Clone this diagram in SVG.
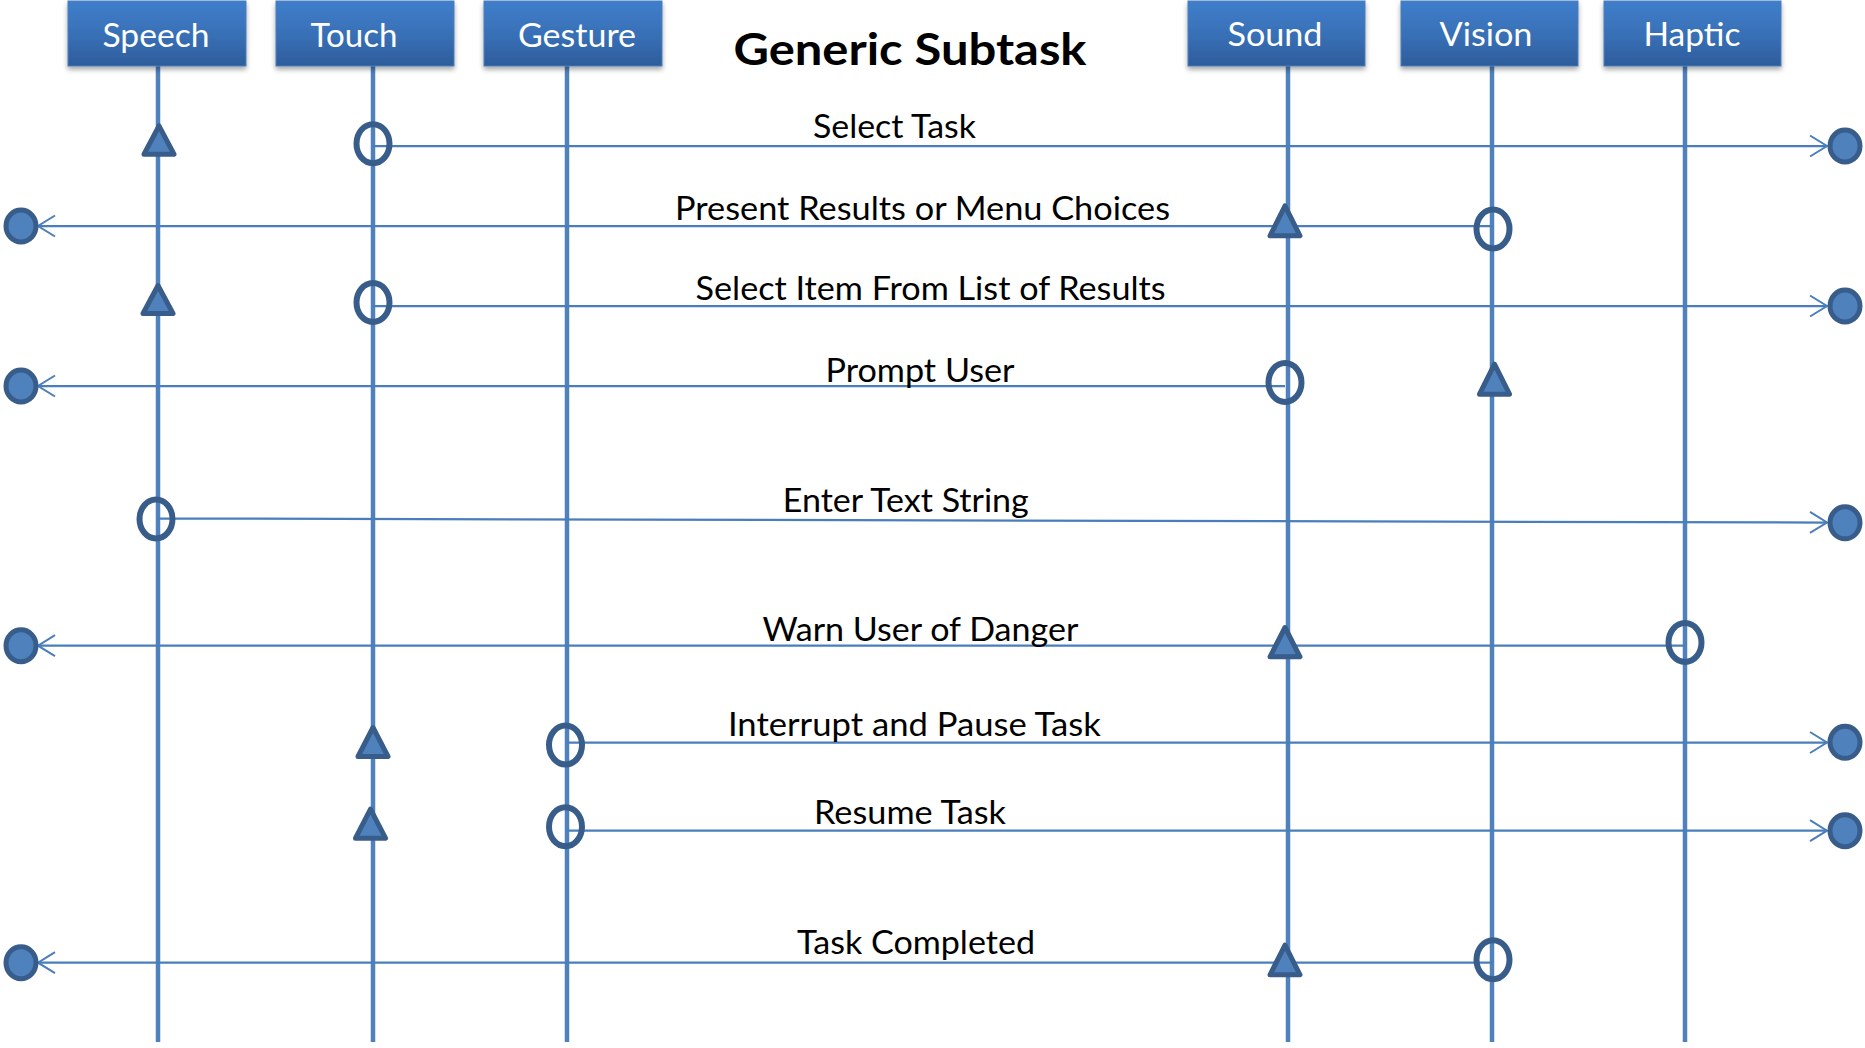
<svg xmlns="http://www.w3.org/2000/svg" width="1865" height="1048" viewBox="0 0 1865 1048">
<defs>
<linearGradient id="hdr" x1="0" y1="0" x2="0" y2="1">
<stop offset="0" stop-color="#3F7ECB"/>
<stop offset="0.55" stop-color="#386FB5"/>
<stop offset="1" stop-color="#2D5C9B"/>
</linearGradient>
<filter id="sh" x="-10%" y="-10%" width="120%" height="130%">
<feDropShadow dx="0" dy="3" stdDeviation="2.5" flood-color="#000" flood-opacity="0.35"/>
</filter>
<marker id="open" viewBox="0 0 20 24" refX="18" refY="12" markerWidth="20" markerHeight="24" markerUnits="userSpaceOnUse" orient="auto">
<path d="M1,1.5 L18,12 L1,22.5" fill="none" stroke="#4A7EBB" stroke-width="2"/>
</marker>
</defs>
<style>
.box{fill:url(#hdr);stroke:#4A7EBB;stroke-width:1;filter:url(#sh)}
.hl{font-family:Lato,"Liberation Sans",sans-serif;font-size:33px;fill:#fff;text-anchor:middle}
.life{stroke:#4F81BD;stroke-width:4.5;fill:none}
.msg{stroke:#4A7EBB;stroke-width:2.25;fill:none}
.arr{marker-end:url(#open)}
.lbl{font-family:Lato,"Liberation Sans",sans-serif;font-size:32px;fill:#000;text-anchor:middle}
.title{font-family:Lato,"Liberation Sans",sans-serif;font-size:44px;font-weight:bold;fill:#000;text-anchor:middle}
.end{fill:#4F81BD;stroke:#385D8A;stroke-width:5}
.ring{fill:none;stroke:#385D8A;stroke-width:6}
.tri{fill:#4F81BD;stroke:#385D8A;stroke-width:5;stroke-linejoin:round}
</style>
<rect width="1865" height="1048" fill="#fff"/>

<text class="title" x="910" y="65" textLength="353" lengthAdjust="spacingAndGlyphs">Generic Subtask</text>

<g id="lifelines">
<line class="life" x1="158" y1="66" x2="158" y2="1042"/>
<line class="life" x1="373" y1="66" x2="373" y2="1042"/>
<line class="life" x1="567" y1="66" x2="567" y2="1042"/>
<line class="life" x1="1288" y1="66" x2="1288" y2="1042"/>
<line class="life" x1="1492" y1="66" x2="1492" y2="1042"/>
<line class="life" x1="1685" y1="66" x2="1685" y2="1042"/>
</g>

<g id="node-speech">
<rect class="box" x="68" y="1" width="178" height="65"/>
<text class="hl" x="156" y="47" textLength="107" lengthAdjust="spacingAndGlyphs">Speech</text>
</g>
<g id="node-touch">
<rect class="box" x="276" y="1" width="178" height="65"/>
<text class="hl" x="354" y="47" textLength="87" lengthAdjust="spacingAndGlyphs">Touch</text>
</g>
<g id="node-gesture">
<rect class="box" x="484" y="1" width="178" height="65"/>
<text class="hl" x="577" y="47" textLength="118" lengthAdjust="spacingAndGlyphs">Gesture</text>
</g>
<g id="node-sound">
<rect class="box" x="1188" y="1" width="177" height="65"/>
<text class="hl" x="1275" y="46" textLength="95" lengthAdjust="spacingAndGlyphs">Sound</text>
</g>
<g id="node-vision">
<rect class="box" x="1401" y="1" width="177" height="65"/>
<text class="hl" x="1486" y="46" textLength="93" lengthAdjust="spacingAndGlyphs">Vision</text>
</g>
<g id="node-haptic">
<rect class="box" x="1604" y="1" width="177" height="65"/>
<text class="hl" x="1692" y="46" textLength="97" lengthAdjust="spacingAndGlyphs">Haptic</text>
</g>

<g id="connectors">
<!-- message lines -->
<line class="msg arr" x1="373" y1="146" x2="1827" y2="146"/>
<line class="msg arr" x1="1493" y1="226" x2="38" y2="226"/>
<line class="msg arr" x1="373" y1="306" x2="1827" y2="306"/>
<line class="msg arr" x1="1285" y1="386" x2="38" y2="386"/>
<line class="msg arr" x1="158" y1="518.5" x2="1827" y2="522.5"/>
<line class="msg arr" x1="1685" y1="645.7" x2="38" y2="645.7"/>
<line class="msg arr" x1="567" y1="742.5" x2="1827" y2="742.5"/>
<line class="msg arr" x1="567" y1="830.7" x2="1827" y2="830.7"/>
<line class="msg arr" x1="1493" y1="962.7" x2="38" y2="962.7"/>

<!-- end points -->
<ellipse class="end" cx="1845" cy="146" rx="15" ry="16"/>
<ellipse class="end" cx="21" cy="226" rx="15" ry="16"/>
<ellipse class="end" cx="1845" cy="306" rx="15" ry="16"/>
<ellipse class="end" cx="21" cy="386" rx="15" ry="16"/>
<ellipse class="end" cx="1845" cy="522.8" rx="15" ry="16"/>
<ellipse class="end" cx="21" cy="645.7" rx="15" ry="16"/>
<ellipse class="end" cx="1845" cy="742.3" rx="15" ry="16"/>
<ellipse class="end" cx="1845" cy="830.7" rx="15" ry="16"/>
<ellipse class="end" cx="21" cy="962.7" rx="15" ry="16"/>

<!-- source rings -->
<ellipse class="ring" cx="373" cy="143.7" rx="16.5" ry="19.5"/>
<ellipse class="ring" cx="1493" cy="229" rx="16.5" ry="19.5"/>
<ellipse class="ring" cx="373" cy="302.5" rx="16.5" ry="19.5"/>
<ellipse class="ring" cx="1285" cy="382.5" rx="16.5" ry="19.5"/>
<ellipse class="ring" cx="156" cy="519" rx="16.5" ry="19.5"/>
<ellipse class="ring" cx="1685" cy="642.5" rx="16.5" ry="19.5"/>
<ellipse class="ring" cx="565.5" cy="745" rx="16.5" ry="19.5"/>
<ellipse class="ring" cx="565.5" cy="826.7" rx="16.5" ry="19.5"/>
<ellipse class="ring" cx="1493" cy="959.7" rx="16.5" ry="19.5"/>

<!-- triangles -->
<polygon class="tri" points="159,125.8 174,154.2 144,154.2"/>
<polygon class="tri" points="1285,205.8 1300,235.8 1270,235.8"/>
<polygon class="tri" points="158,285.5 173,313.5 143,313.5"/>
<polygon class="tri" points="1494.5,364.2 1509.5,394.2 1479.5,394.2"/>
<polygon class="tri" points="1285,627.5 1300,656.8 1270,656.8"/>
<polygon class="tri" points="373,727.5 388,756.5 358,756.5"/>
<polygon class="tri" points="370.5,809.2 385.5,838.2 355.5,838.2"/>
<polygon class="tri" points="1285,945.2 1300,974.8 1270,974.8"/>

<!-- labels -->
<text class="lbl" x="894.5" y="138.3" textLength="163" lengthAdjust="spacingAndGlyphs">Select Task</text>
<text class="lbl" x="922.5" y="220" textLength="495" lengthAdjust="spacingAndGlyphs">Present Results or Menu Choices</text>
<text class="lbl" x="930.6" y="300" textLength="470" lengthAdjust="spacingAndGlyphs">Select Item From List of Results</text>
<text class="lbl" x="920" y="381.7" textLength="189" lengthAdjust="spacingAndGlyphs">Prompt User</text>
<text class="lbl" x="905.8" y="511.7" textLength="246" lengthAdjust="spacingAndGlyphs">Enter Text String</text>
<text class="lbl" x="920.4" y="640.7" textLength="316" lengthAdjust="spacingAndGlyphs">Warn User of Danger</text>
<text class="lbl" x="914.4" y="736" textLength="373" lengthAdjust="spacingAndGlyphs">Interrupt and Pause Task</text>
<text class="lbl" x="910" y="824.3" textLength="192" lengthAdjust="spacingAndGlyphs">Resume Task</text>
<text class="lbl" x="916" y="954" textLength="238" lengthAdjust="spacingAndGlyphs">Task Completed</text>
</g>
</svg>
